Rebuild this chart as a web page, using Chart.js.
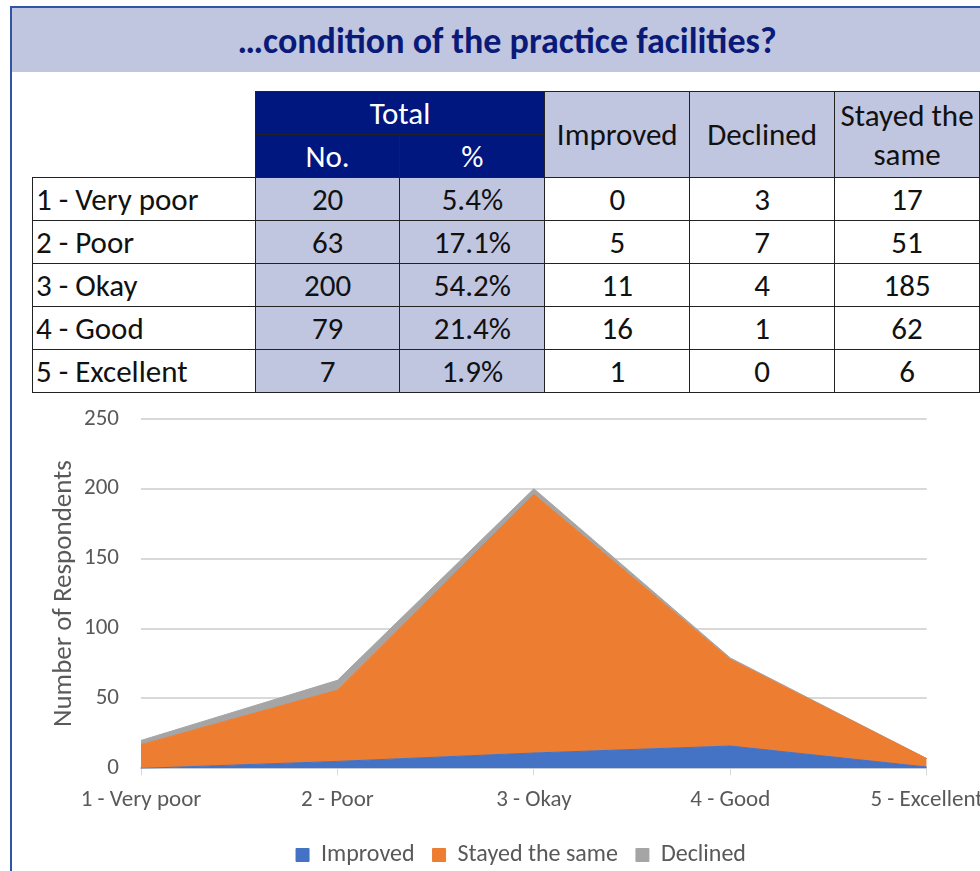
<!DOCTYPE html>
<html>
<head>
<meta charset="utf-8">
<script src="https://cdn.jsdelivr.net/npm/chart.js@4"></script>
<style>
  html, body { margin: 0; padding: 0; background: #fff; }
  body { width: 980px; height: 871px; overflow: hidden; position: relative; font-family: Carlito, Lato, "Noto Sans", sans-serif; }
  .frame { position: absolute; left: 10px; top: 6px; width: 980px; height: 880px; border-left: 2px solid #2f55a4; border-top: 2px solid #2f55a4; }
  .title { position: absolute; left: 12px; top: 8px; width: 968px; height: 64px; background: #c0c5e0; color: #0a1a78; font-weight: bold; font-size: 36px; line-height: 66px; text-align: center; text-indent: 22px; }
  table.stats { position: absolute; left: 32px; top: 91px; border-collapse: collapse; table-layout: fixed; font-size: 31px; color: #111; }
  table.stats td { border: 1px solid #222; text-align: center; padding: 0; height: 42px; }
  table.stats td.lbl { text-align: left; padding-left: 3px; background: #fff; }
  table.stats td.blank { border: none; }
  table.stats td.navy { background: #00177f; color: #fff; }
  table.stats td.lav { background: #c0c5e0; }
  table.stats td.hdr { background: #c0c5e0; line-height: 39px; }
  .chartBox { position: absolute; left: 12px; top: 383px; width: 982px; height: 494px; }
</style>
</head>
<body>
<div class="frame"></div>
<div class="title">…condition of the practice facilities?</div>
<table class="stats" id="stats">
  <colgroup>
    <col style="width:223px"><col style="width:145px"><col style="width:145px">
    <col style="width:145px"><col style="width:145px"><col style="width:145px">
  </colgroup>
  <tbody id="statsBody"></tbody>
</table>
<div class="chartBox"><canvas id="areaChart"></canvas></div>
<script>
// Data
const categories = ['1 - Very poor', '2 - Poor', '3 - Okay', '4 - Good', '5 - Excellent'];
const totalNo = [20, 63, 200, 79, 7];
const totalPct = ['5.4%', '17.1%', '54.2%', '21.4%', '1.9%'];
const improved = [0, 5, 11, 16, 1];
const declined = [3, 7, 4, 1, 0];
const stayedSame = [17, 51, 185, 62, 6];
const yTicks = [0, 50, 100, 150, 200, 250];

// Build the summary table
const body = document.getElementById('statsBody');
let rows = `
  <tr><td class="blank" rowspan="2"></td><td class="navy" colspan="2">Total</td>
      <td class="hdr" rowspan="2">Improved</td><td class="hdr" rowspan="2">Declined</td>
      <td class="hdr" rowspan="2">Stayed the<br>same</td></tr>
  <tr><td class="navy">No.</td><td class="navy">%</td></tr>`;
categories.forEach((cat, i) => {
  rows += `<tr><td class="lbl">${cat}</td><td class="lav">${totalNo[i]}</td><td class="lav">${totalPct[i]}</td>
    <td>${improved[i]}</td><td>${declined[i]}</td><td>${stayedSame[i]}</td></tr>`;
});
body.innerHTML = rows;

// Stacked area chart
const axisFont = { family: 'Carlito, Lato, "Noto Sans", sans-serif', size: 23 };
const ctx = document.getElementById('areaChart').getContext('2d');
new Chart(ctx, {
  type: 'line',
  data: {
    labels: categories,
    datasets: [
      { label: 'Improved', data: improved, backgroundColor: '#4472c4', borderColor: '#4472c4', fill: 'origin' },
      { label: 'Stayed the same', data: stayedSame, backgroundColor: '#ed7d31', borderColor: '#ed7d31', fill: '-1' },
      { label: 'Declined', data: declined, backgroundColor: '#a5a5a5', borderColor: '#a5a5a5', fill: '-1' }
    ]
  },
  options: {
    responsive: true,
    maintainAspectRatio: false,
    animation: false,
    elements: { point: { radius: 0 }, line: { borderWidth: 1, tension: 0 } },
    layout: { padding: { left: 36, right: 0, top: 0, bottom: 0 } },
    plugins: {
      legend: {
        position: 'bottom',
        labels: { boxWidth: 13, boxHeight: 13, color: '#595959', font: { ...axisFont, size: 24 }, padding: 18 }
      },
      tooltip: { enabled: false }
    },
    scales: {
      x: {
        offset: false,
        grid: { display: true, drawOnChartArea: false, drawTicks: true, tickLength: 7, color: '#d9d9d9' },
        border: { color: '#d9d9d9', width: 2 },
        ticks: { color: '#595959', font: axisFont, maxRotation: 0, padding: 11 }
      },
      y: {
        stacked: true,
        min: 0,
        max: 250,
        afterBuildTicks: axis => { axis.ticks = yTicks.map(v => ({ value: v })); },
        afterFit: axis => { axis.width = 93; },
        grid: { color: '#d9d9d9', lineWidth: 2, drawTicks: false },
        border: { display: false },
        ticks: { color: '#595959', font: axisFont, padding: 22 },
        title: { display: true, text: 'Number of Respondents', color: '#595959', font: { ...axisFont, size: 27 }, padding: 0 }
      }
    }
  }
});
</script>
</body>
</html>
